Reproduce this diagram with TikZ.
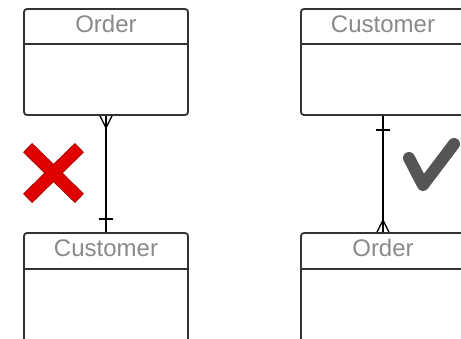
\documentclass[tikz,border=0pt]{standalone}
\usepackage{fontspec}
\setmainfont{Liberation Sans}
\usetikzlibrary{calc}
\definecolor{boxline}{HTML}{333333}
\definecolor{titlegray}{HTML}{8A8A8A}
\definecolor{xred}{HTML}{E00000}
\definecolor{xdark}{HTML}{B00000}
\definecolor{tickgray}{HTML}{555555}
\begin{document}
\begin{tikzpicture}[x=1pt,y=-1pt,
  entity/.style={draw=boxline, line width=1.8pt, rounded corners=3pt, minimum width=164pt, inner sep=0pt, fill=white},
  title/.style={text=titlegray, font=\fontsize{24}{28}\selectfont, anchor=base, inner sep=0pt},
  rel/.style={draw=black, line width=1.8pt},
  foot/.style={draw=black, line width=1.3pt}
]
\useasboundingbox (0,0) rectangle (461,339);
\clip (0,0) rectangle (461,339);
% left pair (wrong)
\node[entity, minimum height=106pt] (o1) at (106,62) {};
\node[entity, minimum height=120pt] (c1) at (106,293) {};
\draw[boxline, line width=1.8pt] ($(o1.north west)+(0,36)$) -- ($(o1.north east)+(0,36)$);
\draw[boxline, line width=1.8pt] ($(c1.north west)+(0,37)$) -- ($(c1.north east)+(0,37)$);
\node[title] (o1t) at (106,33) {Order};
\node[title] (c1t) at (106,257) {Customer};
\draw[rel] (o1.south) -- (c1.north);
\draw[foot] ($(o1.south)+(-6,0)$) -- ($(o1.south)+(0,12)$) -- ($(o1.south)+(6,0)$);
\draw[foot] ($(c1.north)+(-7,-13)$) -- ($(c1.north)+(7,-13)$);
% right pair (right)
\node[entity, minimum height=106pt] (c2) at (383,62) {};
\node[entity, minimum height=120pt] (o2) at (383,293) {};
\draw[boxline, line width=1.8pt] ($(c2.north west)+(0,36)$) -- ($(c2.north east)+(0,36)$);
\draw[boxline, line width=1.8pt] ($(o2.north west)+(0,37)$) -- ($(o2.north east)+(0,37)$);
\node[title] (c2t) at (383,33) {Customer};
\node[title] (o2t) at (383,257) {Order};
\draw[rel] (c2.south) -- (o2.north);
\draw[foot] ($(c2.south)+(-7,14)$) -- ($(c2.south)+(7,14)$);
\draw[foot] ($(o2.north)+(-6,0)$) -- ($(o2.north)+(0,-12)$) -- ($(o2.north)+(6,0)$);
% red cross
\draw[xdark, line width=13pt] (27.6,147.6) -- (79.4,198.4) (79.4,147.6) -- (27.6,198.4);
\draw[xred, line width=11pt] (28.3,148.3) -- (78.7,197.7) (78.7,148.3) -- (28.3,197.7);
% check mark
\draw[tickgray, line width=12pt, line cap=round, line join=round] (409,158) -- (423,185) -- (454,144);
\end{tikzpicture}
\end{document}
